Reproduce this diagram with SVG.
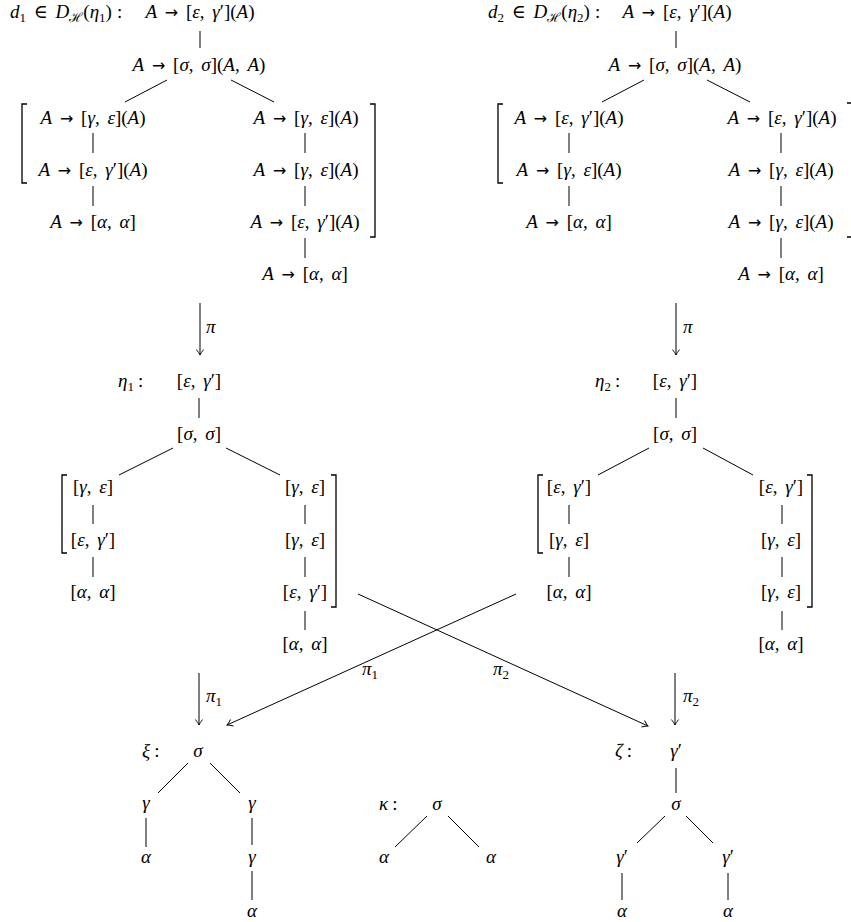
<svg xmlns="http://www.w3.org/2000/svg" width="851" height="922" viewBox="0 0 851 922">
<style>
.m{font-family:"Liberation Serif","DejaVu Serif",serif;font-size:19px;fill:#000;word-spacing:3px}
.c{text-anchor:middle}
.i{font-style:italic}
.s{font-size:13px}
.ar{font-family:"DejaVu Sans",sans-serif;font-size:16px}
.ln{stroke:#000;stroke-width:1;fill:none}
.br{stroke:#000;stroke-width:1.3;fill:none}
</style>
<defs>
<marker id="ah" viewBox="-8 -5 10 10" refX="0" refY="0" markerWidth="10" markerHeight="10" orient="auto" markerUnits="userSpaceOnUse">
<path d="M-5.5,-3.6 Q-2,-0.8 0,0 Q-2,0.8 -5.5,3.6" fill="none" stroke="#000" stroke-width="0.9"/>
</marker>
</defs>
<rect width="851" height="922" fill="#fff"/>

<g id="connectors" class="ln">
<line x1="200" y1="31" x2="200" y2="48"/>
<line x1="167" y1="80" x2="125" y2="102"/>
<line x1="231" y1="80" x2="274" y2="102"/>
<line x1="93" y1="133" x2="93" y2="153"/>
<line x1="93" y1="186" x2="93" y2="206"/>
<line x1="305" y1="133" x2="305" y2="153"/>
<line x1="305" y1="186" x2="305" y2="206"/>
<line x1="305" y1="238" x2="305" y2="258"/>
<line x1="676" y1="31" x2="676" y2="48"/>
<line x1="644" y1="80" x2="602" y2="102"/>
<line x1="707" y1="80" x2="750" y2="102"/>
<line x1="569" y1="133" x2="569" y2="153"/>
<line x1="569" y1="186" x2="569" y2="206"/>
<line x1="781" y1="133" x2="781" y2="153"/>
<line x1="781" y1="186" x2="781" y2="206"/>
<line x1="781" y1="238" x2="781" y2="258"/>
<line x1="200" y1="303" x2="200" y2="355" marker-end="url(#ah)"/>
<line x1="676" y1="303" x2="676" y2="355" marker-end="url(#ah)"/>
<line x1="199" y1="398" x2="199" y2="418"/>
<line x1="173" y1="448" x2="119" y2="475"/>
<line x1="226" y1="448" x2="280" y2="475"/>
<line x1="93" y1="505" x2="93" y2="524"/>
<line x1="93" y1="557" x2="93" y2="577"/>
<line x1="305" y1="505" x2="305" y2="524"/>
<line x1="305" y1="557" x2="305" y2="577"/>
<line x1="305" y1="611" x2="305" y2="630"/>
<line x1="676" y1="398" x2="676" y2="418"/>
<line x1="649" y1="448" x2="598" y2="475"/>
<line x1="703" y1="448" x2="753" y2="475"/>
<line x1="569" y1="505" x2="569" y2="524"/>
<line x1="569" y1="557" x2="569" y2="577"/>
<line x1="782" y1="505" x2="782" y2="524"/>
<line x1="782" y1="557" x2="782" y2="577"/>
<line x1="782" y1="611" x2="782" y2="630"/>
<line x1="199" y1="673" x2="199" y2="725" marker-end="url(#ah)"/>
<line x1="675" y1="673" x2="675" y2="725" marker-end="url(#ah)"/>
<line x1="358" y1="594" x2="648" y2="726" marker-end="url(#ah)"/>
<line x1="516" y1="594" x2="227" y2="725" marker-end="url(#ah)"/>
<line x1="188" y1="763" x2="158" y2="793"/>
<line x1="210" y1="763" x2="240" y2="793"/>
<line x1="146" y1="818" x2="146" y2="847"/>
<line x1="252" y1="818" x2="252" y2="845"/>
<line x1="252" y1="871" x2="252" y2="900"/>
<line x1="427" y1="816" x2="395" y2="847"/>
<line x1="448" y1="816" x2="479" y2="847"/>
<line x1="676" y1="768" x2="676" y2="793"/>
<line x1="665" y1="816" x2="637" y2="843"/>
<line x1="686" y1="816" x2="713" y2="843"/>
<line x1="622" y1="873" x2="622" y2="900"/>
<line x1="728" y1="873" x2="728" y2="900"/>
</g>

<g id="brackets" class="br">
<path d="M27,104 H22 V183 H27"/>
<path d="M370,104 H375 V237 H370"/>
<path d="M503,104 H498 V183 H503"/>
<path d="M847,103 H853 V237 H847"/>
<path d="M67,475 H62 V553 H67"/>
<path d="M331,475 H336 V607 H331"/>
<path d="M543,475 H538 V553 H543"/>
<path d="M807,475 H812 V607 H807"/>
</g>

<g id="edge-labels" class="m">
<text x="206" y="333" class="i">π</text>
<text x="683" y="333" class="i">π</text>
<text x="206" y="702"><tspan class="i">π</tspan><tspan class="s" dy="4">1</tspan></text>
<text x="683" y="702"><tspan class="i">π</tspan><tspan class="s" dy="4">2</tspan></text>
<text x="362" y="675"><tspan class="i">π</tspan><tspan class="s" dy="4">1</tspan></text>
<text x="493" y="675"><tspan class="i">π</tspan><tspan class="s" dy="4">2</tspan></text>
</g>

<g id="d1-title"><text class="m" x="10" y="18"><tspan class="i">d</tspan><tspan class="s" dy="4">1</tspan><tspan dy="-4"> ∈ </tspan><tspan class="i">D</tspan><tspan class="s" dy="4">ℋ</tspan><tspan dy="-4">(</tspan><tspan class="i">η</tspan><tspan class="s" dy="4">1</tspan><tspan dy="-4">)</tspan><tspan dx="5">:</tspan></text></g>
<g id="d1-root"><text class="m c" x="200" y="18"><tspan class="i">A</tspan> <tspan class="ar">→</tspan> [<tspan class="i">ε</tspan>, <tspan class="i">γ</tspan>′](<tspan class="i">A</tspan>)</text></g>
<g id="d1-n2"><text class="m c" x="199" y="71"><tspan class="i">A</tspan> <tspan class="ar">→</tspan> [<tspan class="i">σ</tspan>, <tspan class="i">σ</tspan>](<tspan class="i">A</tspan>, <tspan class="i">A</tspan>)</text></g>
<g id="d1-l1"><text class="m c" x="93" y="124"><tspan class="i">A</tspan> <tspan class="ar">→</tspan> [<tspan class="i">γ</tspan>, <tspan class="i">ε</tspan>](<tspan class="i">A</tspan>)</text></g>
<g id="d1-l2"><text class="m c" x="93" y="176"><tspan class="i">A</tspan> <tspan class="ar">→</tspan> [<tspan class="i">ε</tspan>, <tspan class="i">γ</tspan>′](<tspan class="i">A</tspan>)</text></g>
<g id="d1-l3"><text class="m c" x="93" y="228"><tspan class="i">A</tspan> <tspan class="ar">→</tspan> [<tspan class="i">α</tspan>, <tspan class="i">α</tspan>]</text></g>
<g id="d1-r1"><text class="m c" x="306" y="124"><tspan class="i">A</tspan> <tspan class="ar">→</tspan> [<tspan class="i">γ</tspan>, <tspan class="i">ε</tspan>](<tspan class="i">A</tspan>)</text></g>
<g id="d1-r2"><text class="m c" x="306" y="176"><tspan class="i">A</tspan> <tspan class="ar">→</tspan> [<tspan class="i">γ</tspan>, <tspan class="i">ε</tspan>](<tspan class="i">A</tspan>)</text></g>
<g id="d1-r3"><text class="m c" x="305" y="228"><tspan class="i">A</tspan> <tspan class="ar">→</tspan> [<tspan class="i">ε</tspan>, <tspan class="i">γ</tspan>′](<tspan class="i">A</tspan>)</text></g>
<g id="d1-r4"><text class="m c" x="305" y="280"><tspan class="i">A</tspan> <tspan class="ar">→</tspan> [<tspan class="i">α</tspan>, <tspan class="i">α</tspan>]</text></g>

<g id="d2-title"><text class="m" x="488" y="18"><tspan class="i">d</tspan><tspan class="s" dy="4">2</tspan><tspan dy="-4"> ∈ </tspan><tspan class="i">D</tspan><tspan class="s" dy="4">ℋ</tspan><tspan dy="-4">(</tspan><tspan class="i">η</tspan><tspan class="s" dy="4">2</tspan><tspan dy="-4">)</tspan><tspan dx="5">:</tspan></text></g>
<g id="d2-root"><text class="m c" x="677" y="18"><tspan class="i">A</tspan> <tspan class="ar">→</tspan> [<tspan class="i">ε</tspan>, <tspan class="i">γ</tspan>′](<tspan class="i">A</tspan>)</text></g>
<g id="d2-n2"><text class="m c" x="675" y="71"><tspan class="i">A</tspan> <tspan class="ar">→</tspan> [<tspan class="i">σ</tspan>, <tspan class="i">σ</tspan>](<tspan class="i">A</tspan>, <tspan class="i">A</tspan>)</text></g>
<g id="d2-l1"><text class="m c" x="569" y="124"><tspan class="i">A</tspan> <tspan class="ar">→</tspan> [<tspan class="i">ε</tspan>, <tspan class="i">γ</tspan>′](<tspan class="i">A</tspan>)</text></g>
<g id="d2-l2"><text class="m c" x="569" y="176"><tspan class="i">A</tspan> <tspan class="ar">→</tspan> [<tspan class="i">γ</tspan>, <tspan class="i">ε</tspan>](<tspan class="i">A</tspan>)</text></g>
<g id="d2-l3"><text class="m c" x="569" y="228"><tspan class="i">A</tspan> <tspan class="ar">→</tspan> [<tspan class="i">α</tspan>, <tspan class="i">α</tspan>]</text></g>
<g id="d2-r1"><text class="m c" x="782" y="124"><tspan class="i">A</tspan> <tspan class="ar">→</tspan> [<tspan class="i">ε</tspan>, <tspan class="i">γ</tspan>′](<tspan class="i">A</tspan>)</text></g>
<g id="d2-r2"><text class="m c" x="781" y="176"><tspan class="i">A</tspan> <tspan class="ar">→</tspan> [<tspan class="i">γ</tspan>, <tspan class="i">ε</tspan>](<tspan class="i">A</tspan>)</text></g>
<g id="d2-r3"><text class="m c" x="781" y="228"><tspan class="i">A</tspan> <tspan class="ar">→</tspan> [<tspan class="i">γ</tspan>, <tspan class="i">ε</tspan>](<tspan class="i">A</tspan>)</text></g>
<g id="d2-r4"><text class="m c" x="781" y="280"><tspan class="i">A</tspan> <tspan class="ar">→</tspan> [<tspan class="i">α</tspan>, <tspan class="i">α</tspan>]</text></g>

<g id="eta1-label"><text class="m" x="118" y="387"><tspan class="i">η</tspan><tspan class="s" dy="4">1</tspan><tspan dy="-4" dx="4">:</tspan></text></g>
<g id="eta1-root"><text class="m c" x="199" y="387">[<tspan class="i">ε</tspan>, <tspan class="i">γ</tspan>′]</text></g>
<g id="eta1-n2"><text class="m c" x="199" y="440">[<tspan class="i">σ</tspan>, <tspan class="i">σ</tspan>]</text></g>
<g id="eta1-l1"><text class="m c" x="93" y="493">[<tspan class="i">γ</tspan>, <tspan class="i">ε</tspan>]</text></g>
<g id="eta1-l2"><text class="m c" x="93" y="546">[<tspan class="i">ε</tspan>, <tspan class="i">γ</tspan>′]</text></g>
<g id="eta1-l3"><text class="m c" x="93" y="598">[<tspan class="i">α</tspan>, <tspan class="i">α</tspan>]</text></g>
<g id="eta1-r1"><text class="m c" x="305" y="493">[<tspan class="i">γ</tspan>, <tspan class="i">ε</tspan>]</text></g>
<g id="eta1-r2"><text class="m c" x="305" y="546">[<tspan class="i">γ</tspan>, <tspan class="i">ε</tspan>]</text></g>
<g id="eta1-r3"><text class="m c" x="305" y="598">[<tspan class="i">ε</tspan>, <tspan class="i">γ</tspan>′]</text></g>
<g id="eta1-r4"><text class="m c" x="305" y="650">[<tspan class="i">α</tspan>, <tspan class="i">α</tspan>]</text></g>

<g id="eta2-label"><text class="m" x="595" y="387"><tspan class="i">η</tspan><tspan class="s" dy="4">2</tspan><tspan dy="-4" dx="4">:</tspan></text></g>
<g id="eta2-root"><text class="m c" x="675" y="387">[<tspan class="i">ε</tspan>, <tspan class="i">γ</tspan>′]</text></g>
<g id="eta2-n2"><text class="m c" x="675" y="440">[<tspan class="i">σ</tspan>, <tspan class="i">σ</tspan>]</text></g>
<g id="eta2-l1"><text class="m c" x="569" y="493">[<tspan class="i">ε</tspan>, <tspan class="i">γ</tspan>′]</text></g>
<g id="eta2-l2"><text class="m c" x="569" y="546">[<tspan class="i">γ</tspan>, <tspan class="i">ε</tspan>]</text></g>
<g id="eta2-l3"><text class="m c" x="569" y="598">[<tspan class="i">α</tspan>, <tspan class="i">α</tspan>]</text></g>
<g id="eta2-r1"><text class="m c" x="781" y="493">[<tspan class="i">ε</tspan>, <tspan class="i">γ</tspan>′]</text></g>
<g id="eta2-r2"><text class="m c" x="781" y="546">[<tspan class="i">γ</tspan>, <tspan class="i">ε</tspan>]</text></g>
<g id="eta2-r3"><text class="m c" x="781" y="598">[<tspan class="i">γ</tspan>, <tspan class="i">ε</tspan>]</text></g>
<g id="eta2-r4"><text class="m c" x="781" y="650">[<tspan class="i">α</tspan>, <tspan class="i">α</tspan>]</text></g>

<g id="xi-label"><text class="m" x="142" y="757"><tspan class="i">ξ</tspan><tspan dx="4">:</tspan></text></g>
<g id="xi-root"><text class="m c i" x="198" y="757">σ</text></g>
<g id="xi-l1"><text class="m c i" x="146" y="809">γ</text></g>
<g id="xi-l2"><text class="m c i" x="146" y="863">α</text></g>
<g id="xi-r1"><text class="m c i" x="252" y="809">γ</text></g>
<g id="xi-r2"><text class="m c i" x="252" y="863">γ</text></g>
<g id="xi-r3"><text class="m c i" x="252" y="917">α</text></g>

<g id="kappa-label"><text class="m" x="379" y="810"><tspan class="i">κ</tspan><tspan dx="4">:</tspan></text></g>
<g id="kappa-root"><text class="m c i" x="437" y="810">σ</text></g>
<g id="kappa-l"><text class="m c i" x="384" y="863">α</text></g>
<g id="kappa-r"><text class="m c i" x="491" y="863">α</text></g>

<g id="zeta-label"><text class="m" x="615" y="757"><tspan class="i">ζ</tspan><tspan dx="4">:</tspan></text></g>
<g id="zeta-root"><text class="m c" x="676" y="757"><tspan class="i">γ</tspan>′</text></g>
<g id="zeta-n2"><text class="m c i" x="676" y="810">σ</text></g>
<g id="zeta-l1"><text class="m c" x="622" y="863"><tspan class="i">γ</tspan>′</text></g>
<g id="zeta-l2"><text class="m c i" x="622" y="917">α</text></g>
<g id="zeta-r1"><text class="m c" x="728" y="863"><tspan class="i">γ</tspan>′</text></g>
<g id="zeta-r2"><text class="m c i" x="728" y="917">α</text></g>
</svg>
